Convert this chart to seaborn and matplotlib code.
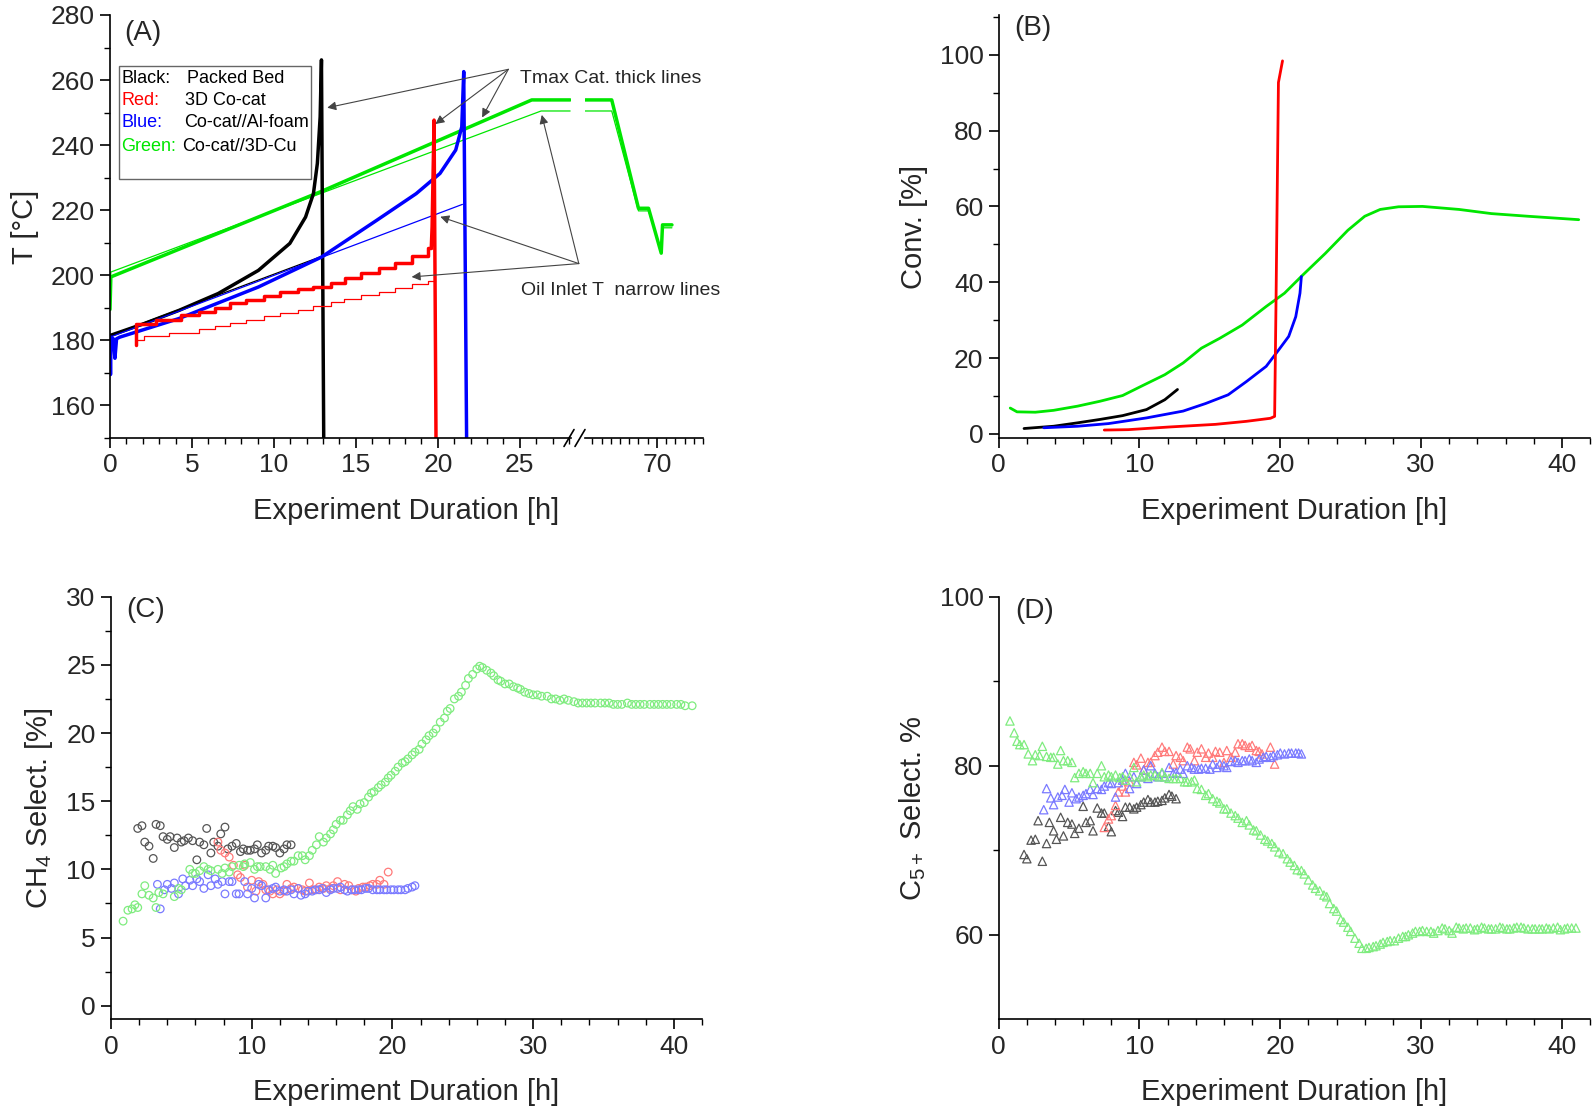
import matplotlib
matplotlib.use("Agg")
import matplotlib.pyplot as plt
from matplotlib.ticker import MultipleLocator, FixedLocator
from matplotlib.patches import Rectangle
import seaborn as sns

sns.set_style("ticks")
plt.rcParams['font.family'] = ['Liberation Sans', 'DejaVu Sans']
plt.rcParams['mathtext.fontset'] = 'custom'
plt.rcParams['mathtext.rm'] = 'Liberation Sans'
plt.rcParams['mathtext.default'] = 'regular'

# ---------------- (A) temperatures ----------------
green_thick_t = [0, 0.05, 12.9, 25.73, 28.07]
green_thick_T = [189.5, 199.5, 225.8, 253.9, 253.9]
green_thick_t2 = [62.2, 65.1, 68.0, 69.09, 70.47, 70.61, 71.63]
green_thick_T2 = [253.9, 253.9, 220.6, 220.6, 206.8, 215.5, 215.5]
green_thin_t = [0, 0.05, 26.3, 28.07]
green_thin_T = [192.0, 201.0, 250.5, 250.5]
green_thin_t2 = [62.2, 65.1, 68.0, 69.09, 70.47, 70.61, 71.63]
green_thin_T2 = [250.5, 250.5, 219.8, 219.8, 207.5, 214.6, 214.6]

black_thick_t = [0, 2.0, 4.2, 6.6, 9.05, 10.97, 11.93, 12.41, 12.65, 12.82, 12.9, 13.05]
black_thick_T = [181.5, 185.0, 189.2, 194.4, 201.5, 209.8, 217.9, 225.1, 234.4, 248.7, 266.2, 140]
black_thin_t = [0, 12.9]
black_thin_T = [181.5, 205.8]

blue_thick_t = [0, 0.03, 0.06, 0.2, 0.3, 0.4, 0.6, 4.2, 9.05, 12.9, 16.27, 18.68,
                20.13, 21.09, 21.46, 21.58, 21.77]
blue_thick_T = [181, 169.5, 181, 180.5, 174.5, 180.5, 181, 186.7, 196.4, 205.6, 216.9, 225.1,
                231.3, 238.5, 245.6, 262.6, 140]
blue_thin_t = [0, 21.5]
blue_thin_T = [181, 221.8]

red_thick_t = [1.56, 1.6, 2.8, 4.33, 5.42, 6.38, 7.35, 8.31, 9.4, 10.36, 11.45, 12.41,
               13.5, 14.34, 15.31, 16.39, 17.36, 18.44, 19.4, 19.6]
red_thick_T = [178.5, 185.0, 186.4, 187.7, 188.8, 190.0, 191.4, 192.4, 193.7, 195.0, 195.7, 196.5,
               197.6, 199.1, 200.7, 202.2, 203.8, 205.8, 208.5, 208.5]
red_spike_t = [19.6, 19.65, 19.77, 19.9]
red_spike_T = [208.5, 214.9, 247.7, 140]
red_thin_t = [1.56, 2.1, 3.6, 5.4, 6.4, 7.35, 8.3, 9.4, 10.4, 11.45, 12.4, 13.5, 14.3,
              15.3, 16.4, 17.4, 18.4, 19.4, 19.8]
red_thin_T = [180.0, 181.2, 182.3, 183.4, 184.4, 185.4, 186.4, 187.4, 188.4, 189.4, 190.6, 191.7,
              192.8, 193.9, 195.0, 196.1, 197.2, 198.2, 198.6]

legend_rows = [('Black:', 'Packed Bed'), ('Red:', '3D Co-cat'),
               ('Blue:', 'Co-cat//Al-foam'), ('Green:', 'Co-cat//3D-Cu')]

# ---------------- (B) conversion ----------------
convB_green_t = [0.82, 1.3, 2.6, 3.9, 5.6, 7.2, 8.8, 10.1, 11.8, 13.1, 14.4, 15.7, 17.3, 19.0,
                 20.3, 21.6, 23.2, 24.8, 26.0, 27.1, 28.4, 30.1, 32.7, 35.0, 37.6, 41.2]
convB_green = [6.8, 5.8, 5.7, 6.2, 7.3, 8.6, 10.1, 12.5, 15.6, 18.7, 22.6, 25.2, 28.7, 33.6,
               37.1, 41.9, 47.6, 53.7, 57.4, 59.2, 59.9, 60.0, 59.2, 58.1, 57.4, 56.5]
convB_black_t = [1.8, 3.9, 5.6, 7.2, 8.8, 10.5, 11.8, 12.7]
convB_black = [1.4, 2.0, 2.9, 3.8, 4.8, 6.4, 9.0, 11.7]
convB_blue_t = [3.2, 5.6, 7.8, 10.5, 13.1, 14.7, 16.3, 17.6, 19.0, 19.9, 20.6, 21.1, 21.4, 21.5]
convB_blue = [1.6, 2.0, 2.7, 4.2, 6.0, 8.0, 10.3, 13.8, 17.8, 22.2, 25.7, 30.9, 37.1, 41.5]
convB_red_t = [7.5, 9.2, 12.1, 15.4, 17.6, 19.3, 19.6, 19.7, 19.87, 20.16]
convB_red = [1.0, 1.1, 1.8, 2.5, 3.3, 4.1, 4.6, 35.3, 92.7, 98.4]

# ---------------- (C) CH4 selectivity ----------------
ch4_green_t = [0.86, 1.2, 1.5, 1.7, 1.9, 2.2, 2.4, 2.7, 3.0, 3.2,
               3.4, 3.7, 4.5, 4.8, 5.0, 5.6, 5.8, 6.0, 6.3, 6.6,
               6.9, 7.1, 7.6, 7.9, 8.1, 8.4, 8.6, 9.1, 9.4, 9.5,
               9.9, 10.2, 10.4, 10.6, 11.0, 11.3, 11.5, 11.7, 12.1, 12.3,
               12.5, 12.8, 13.0, 13.3, 13.6, 13.8, 14.1, 14.3, 14.6, 14.8,
               15.1, 15.3, 15.6, 15.8, 16.0, 16.3, 16.5, 16.8, 17.0, 17.2,
               17.5, 17.7, 18.0, 18.3, 18.5, 18.7, 19.0, 19.2, 19.5, 19.7,
               19.9, 20.2, 20.4, 20.7, 20.9, 21.1, 21.4, 21.6, 21.9, 22.1,
               22.4, 22.6, 22.9, 23.1, 23.4, 23.7, 23.9, 24.1, 24.4, 24.7,
               24.9, 25.2, 25.4, 25.7, 26.0, 26.2, 26.4, 26.7, 27.0, 27.2,
               27.5, 27.7, 28.0, 28.3, 28.6, 28.9, 29.1, 29.4, 29.7, 30.0,
               30.3, 30.6, 31.0, 31.3, 31.6, 31.9, 32.2, 32.5, 32.9, 33.2,
               33.5, 33.8, 34.1, 34.4, 34.8, 35.1, 35.4, 35.7, 36.0, 36.3,
               36.7, 37.0, 37.3, 37.6, 37.9, 38.3, 38.6, 38.9, 39.2, 39.5,
               39.8, 40.2, 40.5, 40.8, 41.3]
ch4_green = [6.2, 7.0, 7.1, 7.4, 7.2, 8.2, 8.8, 8.1, 7.9, 7.2,
             8.3, 8.2, 8.0, 8.6, 8.5, 10.0, 9.7, 9.7, 9.9, 10.2,
             10.0, 9.9, 10.0, 9.7, 10.1, 9.8, 10.2, 10.3, 10.2, 10.4,
             10.5, 10.0, 10.2, 10.2, 10.2, 10.0, 10.3, 9.7, 10.1, 10.2,
             10.4, 10.6, 10.6, 11.0, 11.0, 10.7, 11.0, 11.4, 11.8, 12.4,
             12.0, 12.3, 12.6, 12.9, 13.3, 13.6, 13.6, 14.0, 14.3, 14.6,
             14.4, 14.8, 14.9, 15.3, 15.6, 15.7, 16.0, 16.2, 16.4, 16.7,
             16.9, 17.2, 17.5, 17.8, 17.9, 18.1, 18.4, 18.6, 18.8, 19.2,
             19.5, 19.8, 20.0, 20.3, 20.8, 21.1, 21.6, 21.8, 22.5, 22.7,
             23.0, 23.5, 24.0, 24.3, 24.7, 24.9, 24.8, 24.6, 24.4, 24.2,
             23.9, 23.8, 23.6, 23.6, 23.4, 23.3, 23.2, 23.0, 22.9, 22.8,
             22.8, 22.7, 22.7, 22.5, 22.5, 22.4, 22.5, 22.4, 22.3, 22.2,
             22.2, 22.2, 22.2, 22.2, 22.2, 22.2, 22.2, 22.1, 22.1, 22.1,
             22.2, 22.1, 22.1, 22.1, 22.1, 22.1, 22.1, 22.1, 22.1, 22.1,
             22.1, 22.1, 22.1, 22.0, 22.0]
ch4_black_t = [1.9, 2.2, 2.4, 2.7, 3.0, 3.2, 3.5, 3.7, 4.0, 4.2,
               4.5, 4.7, 5.0, 5.2, 5.5, 5.8, 6.1, 6.3, 6.6, 6.8,
               7.1, 7.3, 7.6, 7.8, 8.1, 8.3, 8.6, 8.9, 9.2, 9.4,
               9.7, 9.9, 10.2, 10.4, 10.7, 11.0, 11.2, 11.5, 11.7, 12.0,
               12.3, 12.5, 12.8]
ch4_black = [13.0, 13.2, 12.0, 11.7, 10.8, 13.3, 13.2, 12.4, 12.2, 12.4,
             11.6, 12.3, 12.0, 12.1, 12.3, 12.1, 10.7, 12.0, 11.8, 13.0,
             11.2, 12.0, 11.7, 12.6, 13.1, 11.5, 11.7, 11.9, 11.3, 11.5,
             11.4, 11.4, 11.5, 11.8, 11.2, 11.4, 11.7, 11.7, 11.6, 11.2,
             11.5, 11.8, 11.8]
ch4_red_t = [7.6, 7.8, 8.1, 8.4, 8.7, 9.0, 9.2, 9.5, 9.7, 10.0,
             10.3, 10.5, 10.8, 11.0, 11.3, 11.5, 11.8, 12.0, 12.3, 12.5,
             12.8, 13.0, 13.3, 13.6, 13.8, 14.1, 14.3, 14.6, 14.8, 15.1,
             15.3, 15.6, 15.8, 16.1, 16.3, 16.6, 16.9, 17.1, 17.4, 17.6,
             17.9, 18.1, 18.4, 18.6, 18.9, 19.1, 19.4, 19.7]
ch4_red = [12.0, 11.4, 11.2, 10.9, 10.3, 9.6, 9.4, 10.3, 8.7, 9.2,
           8.4, 9.1, 8.9, 8.5, 8.4, 8.2, 8.5, 8.2, 8.4, 8.9,
           8.6, 8.7, 8.6, 8.5, 8.4, 9.0, 8.5, 8.5, 8.7, 8.6,
           8.8, 8.6, 8.8, 9.1, 8.5, 8.9, 8.8, 8.5, 8.4, 8.6,
           8.7, 8.7, 8.8, 8.9, 8.9, 9.2, 8.9, 9.8]
ch4_blue_t = [3.3, 3.5, 3.8, 4.0, 4.3, 4.5, 4.8, 5.1, 5.3, 5.6,
              5.8, 6.1, 6.3, 6.6, 6.9, 7.1, 7.4, 7.6, 7.9, 8.1,
              8.4, 8.6, 8.9, 9.1, 9.5, 9.7, 10.0, 10.2, 10.5, 10.7,
              11.0, 11.2, 11.5, 11.7, 12.0, 12.3, 12.5, 12.8, 13.0, 13.3,
              13.5, 13.8, 14.0, 14.3, 14.5, 14.8, 15.0, 15.3, 15.6, 15.8,
              16.1, 16.3, 16.6, 16.8, 17.1, 17.3, 17.6, 17.8, 18.1, 18.3,
              18.6, 18.9, 19.1, 19.4, 19.6, 19.9, 20.1, 20.4, 20.6, 20.9,
              21.1, 21.4, 21.6]
ch4_blue = [8.9, 7.1, 8.5, 8.9, 8.6, 9.0, 8.2, 9.3, 8.8, 9.2,
            8.8, 9.3, 9.1, 8.6, 9.6, 8.8, 9.3, 8.9, 9.1, 8.2,
            9.1, 9.1, 8.2, 8.2, 9.1, 8.2, 8.6, 7.9, 8.9, 8.8,
            7.9, 8.5, 8.6, 8.7, 8.4, 8.5, 8.4, 8.5, 8.2, 8.6,
            8.1, 8.2, 8.4, 8.4, 8.5, 8.5, 8.6, 8.3, 8.5, 8.6,
            8.6, 8.7, 8.5, 8.4, 8.5, 8.5, 8.5, 8.5, 8.6, 8.6,
            8.5, 8.5, 8.5, 8.5, 8.5, 8.5, 8.5, 8.5, 8.5, 8.5,
            8.6, 8.7, 8.8]

# ---------------- (D) C5+ selectivity ----------------
c5_green_t = [0.8, 1.1, 1.3, 1.5, 1.8, 2.1, 2.4, 2.6, 2.9, 3.1,
              3.4, 3.7, 3.9, 4.2, 4.4, 4.6, 4.9, 5.2, 5.4, 5.7,
              6.0, 6.2, 6.5, 6.7, 7.0, 7.3, 7.5, 7.8, 8.0, 8.3,
              8.6, 8.8, 9.0, 9.3, 9.6, 9.8, 10.1, 10.3, 10.6, 10.8,
              11.1, 11.4, 11.6, 11.8, 12.1, 12.4, 12.6, 12.9, 13.2, 13.4,
              13.7, 13.9, 14.1, 14.4, 14.7, 14.9, 15.2, 15.5, 15.7, 16.0,
              16.2, 16.5, 16.8, 17.0, 17.3, 17.6, 17.8, 18.1, 18.3, 18.6,
              18.9, 19.1, 19.4, 19.6, 19.9, 20.2, 20.5, 20.7, 21.0, 21.2,
              21.5, 21.7, 22.0, 22.3, 22.5, 22.8, 23.1, 23.3, 23.5, 23.8,
              24.0, 24.3, 24.5, 24.8, 25.0, 25.3, 25.6, 25.8, 26.1, 26.3,
              26.6, 26.8, 27.1, 27.3, 27.6, 27.8, 28.1, 28.4, 28.7, 28.9,
              29.1, 29.4, 29.6, 29.9, 30.1, 30.4, 30.7, 30.9, 31.2, 31.5,
              31.7, 32.0, 32.2, 32.5, 32.7, 33.0, 33.2, 33.5, 33.8, 34.0,
              34.3, 34.5, 34.8, 35.0, 35.3, 35.6, 35.8, 36.1, 36.3, 36.6,
              36.8, 37.1, 37.3, 37.6, 37.9, 38.1, 38.4, 38.6, 38.9, 39.1,
              39.4, 39.7, 39.9, 40.2, 40.4, 40.7, 41.0]
c5_green = [85.3, 83.9, 82.9, 82.5, 82.5, 81.4, 80.6, 81.3, 81.2, 82.3,
            81.1, 81.0, 81.0, 80.2, 81.8, 80.6, 80.6, 80.4, 78.6, 79.1,
            79.3, 79.1, 79.1, 78.0, 79.1, 80.0, 78.7, 78.9, 78.7, 78.9,
            78.6, 78.7, 78.3, 78.7, 79.8, 78.1, 78.7, 78.9, 78.7, 78.9,
            78.9, 78.7, 79.2, 78.7, 78.5, 78.5, 78.5, 78.5, 78.1, 78.1,
            78.1, 78.3, 77.3, 77.2, 76.5, 76.7, 76.1, 75.8, 75.6, 74.9,
            74.9, 74.4, 74.1, 73.8, 73.3, 73.5, 73.0, 72.4, 72.3, 71.8,
            71.3, 71.1, 70.8, 70.4, 69.8, 69.6, 69.0, 68.6, 68.2, 67.7,
            67.6, 67.2, 66.5, 65.9, 65.5, 65.2, 64.7, 64.5, 63.7, 63.1,
            62.8, 61.8, 61.5, 60.9, 60.4, 59.6, 59.0, 58.4, 58.4, 58.5,
            58.6, 58.7, 58.9, 59.1, 59.2, 59.3, 59.3, 59.6, 59.8, 59.8,
            60.0, 60.2, 60.4, 60.4, 60.5, 60.4, 60.4, 60.2, 60.5, 60.8,
            60.7, 60.5, 60.2, 60.9, 60.8, 60.7, 60.8, 60.8, 60.6, 60.7,
            60.9, 60.8, 60.7, 60.7, 60.7, 60.9, 60.8, 60.7, 60.7, 60.8,
            60.9, 60.9, 60.8, 60.7, 60.7, 60.7, 60.7, 60.7, 60.8, 60.7,
            60.8, 60.9, 60.6, 60.7, 60.8, 60.8, 60.8]
c5_black_t = [1.8, 2.0, 2.3, 2.6, 2.8, 3.1, 3.4, 3.6, 3.9, 4.1,
              4.4, 4.6, 4.9, 5.2, 5.4, 5.7, 6.0, 6.2, 6.5, 6.7,
              7.0, 7.3, 7.5, 7.8, 8.0, 8.3, 8.5, 8.8, 9.0, 9.3,
              9.6, 9.8, 10.1, 10.3, 10.6, 10.8, 11.1, 11.3, 11.6, 11.8,
              12.1, 12.3, 12.6]
c5_black = [69.5, 69.0, 71.2, 71.3, 73.5, 68.7, 70.8, 73.3, 72.3, 71.3,
            73.9, 71.7, 73.3, 73.1, 72.0, 72.6, 75.2, 73.3, 73.5, 72.3,
            75.0, 74.4, 74.4, 72.8, 72.2, 74.7, 74.5, 74.0, 75.1, 75.1,
            74.9, 75.1, 75.4, 75.7, 76.0, 75.7, 75.7, 75.8, 75.9, 76.2,
            76.6, 76.4, 76.1]
c5_red_t = [7.5, 7.8, 8.0, 8.3, 8.5, 8.8, 9.0, 9.3, 9.6, 9.8,
            10.1, 10.3, 10.6, 10.8, 11.1, 11.3, 11.6, 11.8, 12.1, 12.4,
            12.6, 12.9, 13.1, 13.4, 13.6, 13.9, 14.1, 14.4, 14.7, 14.9,
            15.2, 15.4, 15.7, 16.0, 16.2, 16.5, 16.8, 17.0, 17.3, 17.5,
            17.8, 18.0, 18.3, 18.5, 18.7, 19.3, 19.6]
c5_red = [72.7, 73.7, 74.1, 75.3, 76.9, 77.6, 76.9, 78.1, 80.4, 80.1,
          80.9, 79.5, 80.4, 80.4, 81.2, 81.6, 82.2, 81.7, 81.7, 80.2,
          81.2, 81.0, 80.6, 82.2, 82.0, 80.6, 81.6, 82.0, 81.0, 81.5,
          81.0, 81.7, 81.6, 80.4, 81.8, 81.0, 81.6, 82.6, 82.6, 82.4,
          82.2, 82.4, 81.8, 81.7, 81.4, 82.2, 80.2]
c5_blue_t = [3.2, 3.4, 3.7, 3.9, 4.2, 4.5, 4.7, 5.0, 5.2, 5.5,
             5.7, 6.0, 6.2, 6.5, 6.7, 7.0, 7.3, 7.5, 7.8, 8.0,
             8.3, 8.5, 8.8, 9.0, 9.3, 9.6, 9.8, 10.1, 10.3, 10.6,
             10.8, 11.1, 11.3, 11.6, 11.8, 12.1, 12.4, 12.6, 12.9, 13.1,
             13.4, 13.7, 13.9, 14.2, 14.4, 14.7, 15.0, 15.2, 15.5, 15.7,
             16.0, 16.2, 16.5, 16.8, 17.0, 17.3, 17.5, 17.8, 18.0, 18.3,
             18.5, 18.8, 19.0, 19.3, 19.5, 19.8, 20.0, 20.3, 20.6, 20.8,
             21.1, 21.3, 21.5]
c5_blue = [74.8, 77.3, 76.2, 75.4, 76.3, 76.5, 77.2, 75.7, 76.8, 76.1,
           76.3, 76.5, 76.7, 77.2, 76.6, 77.3, 77.2, 77.6, 78.0, 77.9,
           76.3, 78.0, 78.3, 79.1, 77.3, 78.7, 77.9, 78.7, 79.5, 78.5,
           80.0, 79.1, 78.7, 79.1, 78.7, 79.8, 79.1, 79.2, 79.6, 79.1,
           80.0, 79.8, 79.6, 79.6, 79.7, 79.7, 79.6, 80.2, 79.8, 80.2,
           80.0, 79.8, 80.5, 80.6, 80.4, 80.6, 80.6, 80.8, 80.6, 80.4,
           80.8, 81.0, 81.1, 81.0, 81.2, 81.3, 81.5, 81.4, 81.5, 81.5,
           81.5, 81.5, 81.4]

BLACK, RED, BLUE, GREEN = 'black', '#ff0000', '#0000ff', '#00e600'
M_BLACK, M_RED, M_BLUE, M_GREEN = '#555555', '#ff7a7a', '#7a7aff', '#7fec7f'
THICK, THIN = 2.5, 0.9
XLABEL = 'Experiment Duration [h]'


def line(ax, x, y, color, lw, **kw):
    sns.lineplot(x=x, y=y, color=color, linewidth=lw, sort=False, estimator=None,
                 errorbar=None, ax=ax, **kw)


def dots(ax, x, y, color, marker, s):
    sns.scatterplot(x=x, y=y, marker=marker, s=s, facecolor='none', edgecolor=color,
                    linewidth=0.9, ax=ax, zorder=3)


def style(ax):
    sns.despine(ax=ax)
    for sp in ax.spines.values():
        sp.set_color('black')
        sp.set_linewidth(1.2)
    ax.tick_params(which='major', direction='out', length=7, width=1.2, labelsize=19,
                   color='black', pad=4)
    ax.tick_params(which='minor', direction='out', length=4, width=1.0, color='black')
    ax.set_xlabel(XLABEL, fontsize=21, labelpad=14)
    ax.set_ylabel('')


fig = plt.figure(figsize=(15.95, 11.1), dpi=100)

# ---------- panel A (broken x axis) ----------
axA = fig.add_axes([0.06897, 0.60541, 0.28878, 0.38108])
axA2 = fig.add_axes([0.36677, 0.60541, 0.07398, 0.38108])
axA2.patch.set_visible(False)

for ax, gt, gT, ht, hT in [(axA, green_thin_t, green_thin_T, green_thick_t, green_thick_T),
                           (axA2, green_thin_t2, green_thin_T2, green_thick_t2, green_thick_T2)]:
    line(ax, gt, gT, GREEN, THIN)
    line(ax, ht, hT, GREEN, THICK)

line(axA, black_thin_t, black_thin_T, BLACK, THIN)
line(axA, black_thick_t, black_thick_T, BLACK, THICK)
line(axA, blue_thin_t, blue_thin_T, BLUE, THIN)
line(axA, blue_thick_t, blue_thick_T, BLUE, THICK)
line(axA, red_thin_t, red_thin_T, RED, THIN, drawstyle='steps-post')
line(axA, red_thick_t, red_thick_T, RED, THICK, drawstyle='steps-post')
line(axA, red_spike_t, red_spike_T, RED, THICK)

for ax in (axA, axA2):
    style(ax)
    ax.set_ylim(150, 280)
    ax.xaxis.set_minor_locator(MultipleLocator(1))
axA.set_xlim(0, 28.1)
axA.set_xticks([0, 5, 10, 15, 20, 25])
axA.set_yticks(range(160, 281, 20))
axA.yaxis.set_minor_locator(MultipleLocator(10))
axA.set_ylabel('T [°C]', fontsize=21, labelpad=8)
axA.xaxis.label.set_x(0.643)
axA2.set_xlim(62.2, 75.0)
axA2.set_xticks([70])
axA2.set_xlabel('')
axA2.spines['left'].set_visible(False)
axA2.tick_params(axis='y', which='both', left=False, labelleft=False)

# break marks "//"
for ax, xc, wpx in ((axA, (569 - 110) / 460.6, 460.6), (axA2, (580 - 585) / 118, 118)):
    w = 10 / wpx
    ax.plot([xc - w / 2, xc + w / 2], [-0.02, 0.02], transform=ax.transAxes,
            color='black', lw=1.2, clip_on=False)

axA.text(0.03, 0.957, '(A)', transform=axA.transAxes, fontsize=20, va='center')

# legend box
axA.add_patch(Rectangle((0.019, 0.612), 0.418, 0.268, transform=axA.transAxes,
                        fill=False, edgecolor='#666666', lw=1.0))
for (lab, desc), col, y, xd in zip(legend_rows, [BLACK, RED, BLUE, GREEN],
                                   [0.849, 0.797, 0.745, 0.690],
                                   [0.167, 0.162, 0.160, 0.156]):
    axA.text(0.025, y, lab, color=col, fontsize=13, va='center', transform=axA.transAxes)
    axA.text(xd, y, desc, color='black', fontsize=13, va='center', transform=axA.transAxes)

arrow = dict(arrowstyle='-|>', color='#444444', lw=0.8, mutation_scale=13,
             shrinkA=0, shrinkB=0)
axA.text(25.0, 260.5, 'Tmax Cat. thick lines', fontsize=14, va='center')
for xy in [(13.25, 251.5), (19.85, 246.5), (22.7, 248.5)]:
    axA.annotate('', xy=xy, xytext=(24.3, 263.3), arrowprops=arrow, annotation_clip=False)
axA.text(25.1, 195.4, 'Oil Inlet T  narrow lines', fontsize=14, va='center')
for xy in [(26.34, 249.3), (20.15, 218.0), (18.4, 199.5)]:
    axA.annotate('', xy=xy, xytext=(28.6, 203.6), arrowprops=arrow, annotation_clip=False)

# ---------- panel B ----------
axB = fig.add_axes([0.62614, 0.60541, 0.37072, 0.38108])
line(axB, convB_green_t, convB_green, GREEN, 2.0)
line(axB, convB_black_t, convB_black, BLACK, 2.0)
line(axB, convB_blue_t, convB_blue, BLUE, 2.0)
line(axB, convB_red_t, convB_red, RED, 2.0)
style(axB)
axB.set_xlim(0, 42)
axB.set_ylim(-1.1, 110.5)
axB.set_xticks([0, 10, 20, 30, 40])
axB.xaxis.set_minor_locator(MultipleLocator(2))
axB.set_yticks([0, 20, 40, 60, 80, 100])
axB.yaxis.set_minor_locator(MultipleLocator(10))
axB.set_ylabel('Conv. [%]', fontsize=21, labelpad=8)
axB.text(0.027, 0.969, '(B)', transform=axB.transAxes, fontsize=20, va='center')

# ---------- panel C ----------
axC = fig.add_axes([0.06959, 0.08171, 0.37053, 0.38072])
dots(axC, ch4_black_t, ch4_black, M_BLACK, 'o', 30)
dots(axC, ch4_red_t, ch4_red, M_RED, 'o', 30)
dots(axC, ch4_blue_t, ch4_blue, M_BLUE, 'o', 30)
dots(axC, ch4_green_t, ch4_green, M_GREEN, 'o', 30)
style(axC)
axC.set_xlim(0, 42)
axC.set_ylim(-1, 30)
axC.set_xticks([0, 10, 20, 30, 40])
axC.xaxis.set_minor_locator(MultipleLocator(2))
axC.set_yticks([0, 5, 10, 15, 20, 25, 30])
axC.yaxis.set_minor_locator(MultipleLocator(2.5))
axC.set_ylabel('CH$_4$ Select. [%]', fontsize=21, labelpad=8)
axC.text(0.025, 0.969, '(C)', transform=axC.transAxes, fontsize=20, va='center')

# ---------- panel D ----------
axD = fig.add_axes([0.62614, 0.08171, 0.37072, 0.38072])
dots(axD, c5_black_t, c5_black, M_BLACK, '^', 36)
dots(axD, c5_red_t, c5_red, M_RED, '^', 36)
dots(axD, c5_blue_t, c5_blue, M_BLUE, '^', 36)
dots(axD, c5_green_t, c5_green, M_GREEN, '^', 36)
style(axD)
axD.set_xlim(0, 42)
axD.set_ylim(50, 100)
axD.set_xticks([0, 10, 20, 30, 40])
axD.xaxis.set_minor_locator(MultipleLocator(2))
axD.set_yticks([60, 80, 100])
axD.yaxis.set_minor_locator(FixedLocator([70, 90]))
axD.set_ylabel('C$_{5+}$ Select. %', fontsize=21, labelpad=8)
axD.text(0.028, 0.967, '(D)', transform=axD.transAxes, fontsize=20, va='center')

fig.savefig('out.png', dpi=100)
